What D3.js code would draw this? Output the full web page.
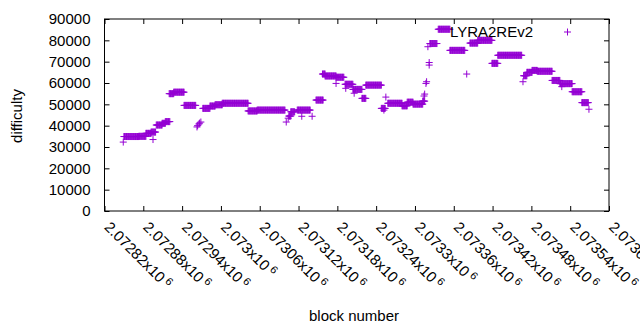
<!DOCTYPE html>
<html>
<head>
<meta charset="utf-8">
<script src="https://cdn.jsdelivr.net/npm/d3@7"></script>
<style>
  body { margin: 0; background: #fff; }
  text { font-family: "Liberation Sans", Arial, sans-serif; }
</style>
</head>
<body>
<div id="chart"></div>
<script>
// runs of consecutive blocks sharing one difficulty (start block, end block, difficulty)
const runStart = [2072849, 2072850, 2072873, 2072884, 2072892, 2072895, 2072900, 2072909, 2072914,
  2072920, 2072927, 2072943, 2072963, 2072964, 2072966, 2072967, 2072969,
  2072972, 2072983, 2072991, 2073002, 2073042, 2073056,
  2073101, 2073104, 2073105, 2073108, 2073118, 2073125, 2073141, 2073147,
  2073157, 2073161, 2073178, 2073178, 2073193, 2073192, 2073204, 2073206, 2073218, 2073224,
  2073248, 2073252, 2073255, 2073258, 2073280, 2073288, 2073297,
  2073312, 2073314, 2073315, 2073317, 2073318, 2073322, 2073322, 2073320, 2073323,
  2073336, 2073354, 2073380, 2073385, 2073397, 2073419, 2073428,
  2073467, 2073468, 2073473, 2073481, 2073489, 2073512, 2073524, 2073527, 2073543, 2073558, 2073569];
const runEnd = [2072849, 2072873, 2072884, 2072892, 2072899, 2072895, 2072909, 2072914, 2072921,
  2072927, 2072943, 2072961, 2072963, 2072964, 2072966, 2072967, 2072969,
  2072983, 2072991, 2073002, 2073042, 2073056, 2073099,
  2073101, 2073104, 2073108, 2073114, 2073138, 2073125, 2073141, 2073158,
  2073161, 2073178, 2073178, 2073190, 2073193, 2073204, 2073218, 2073206, 2073224, 2073248,
  2073254, 2073252, 2073255, 2073280, 2073288, 2073297, 2073312,
  2073315, 2073314, 2073315, 2073317, 2073318, 2073322, 2073322, 2073320, 2073334,
  2073354, 2073377, 2073380, 2073397, 2073419, 2073428, 2073465,
  2073467, 2073473, 2073481, 2073489, 2073512, 2073524, 2073543, 2073527, 2073558, 2073568, 2073569];
const runDiff = [32300, 34900, 35000, 36400, 37000, 33500, 40300, 41100, 41900,
  55000, 55700, 49500, 39400, 40000, 40800, 41200, 41700,
  48100, 49200, 49800, 50500, 46900, 47300,
  41700, 43500, 44500, 46500, 47300, 44400, 44400, 52000,
  64200, 63300, 59800, 62700, 57500, 59400, 57000, 55200, 52800, 59000,
  48100, 47300, 53400, 50500, 49300, 51000, 50100,
  51500, 53900, 54800, 59800, 60600, 68400, 69600, 77000, 78500,
  85200, 75300, 64200, 78700, 80000, 69200, 73000,
  60600, 63400, 65000, 65900, 65500, 61200, 59700, 58300, 55900, 50800, 47700];

const yTicks = [0, 10000, 20000, 30000, 40000, 50000, 60000, 70000, 80000, 90000];
const xTicks = [2072820, 2072880, 2072940, 2073000, 2073060, 2073120, 2073180,
  2073240, 2073300, 2073360, 2073420, 2073480, 2073540, 2073600];
const xTickLabels = ["2.07282", "2.07288", "2.07294", "2.073", "2.07306", "2.07312", "2.07318",
  "2.07324", "2.0733", "2.07336", "2.07342", "2.07348", "2.07354", "2.0736"];
const seriesName = "LYRA2REv2";

const width = 640, height = 330;
const plot = {left: 104.5, right: 609, top: 19, bottom: 211};
const color = "#9400d3";

const svg = d3.select("#chart").append("svg")
  .attr("width", width).attr("height", height);

const x = d3.scaleLinear().domain([xTicks[0], xTicks[xTicks.length - 1]]).range([plot.left, plot.right]);
const y = d3.scaleLinear().domain([0, 90000]).range([plot.bottom, plot.top]);

// expand runs into one point per block
const points = [];
runStart.forEach((s, i) => {
  for (let b = s; b <= runEnd[i]; b++) points.push({block: b, diff: runDiff[i]});
});

// axes with inward ticks, mirrored on top and right
const axisStyle = g => {
  g.select(".domain").remove();
  g.selectAll("line").attr("stroke", "#000");
  g.selectAll("text").attr("fill", "#000").style("font-size", "15px")
    .style("font-family", "'Liberation Sans', Arial, sans-serif");
};
svg.append("g").attr("transform", `translate(${plot.left},0)`)
  .call(d3.axisLeft(y).tickValues(yTicks).tickSize(-5).tickPadding(14).tickFormat(d3.format("d")))
  .call(axisStyle);
svg.append("g").attr("transform", `translate(${plot.right},0)`)
  .call(d3.axisRight(y).tickValues(yTicks).tickSize(-5).tickFormat(""))
  .call(axisStyle);
svg.append("g").attr("transform", `translate(0,${plot.bottom})`)
  .call(d3.axisBottom(x).tickValues(xTicks).tickSize(-5).tickFormat(""))
  .call(axisStyle);
svg.append("g").attr("transform", `translate(0,${plot.top})`)
  .call(d3.axisTop(x).tickValues(xTicks).tickSize(-5).tickFormat(""))
  .call(axisStyle);

// rotated x tick labels
const xl = svg.append("g").selectAll("text").data(xTicks).enter().append("text")
  .attr("transform", d => `translate(${x(d) - 1},228) rotate(45)`)
  .style("font-size", "15px").attr("fill", "#000");
xl.append("tspan").text((d, i) => xTickLabels[i] + "x10");
xl.append("tspan").attr("dx", 3).attr("dy", -5).style("font-size", "11px").text("6");

svg.append("rect")
  .attr("x", plot.left).attr("y", plot.top)
  .attr("width", plot.right - plot.left).attr("height", plot.bottom - plot.top)
  .attr("fill", "none").attr("stroke", "#000").attr("stroke-width", 1);

// plus markers
const s = 3.5;
svg.append("g").selectAll("path").data(points).enter().append("path")
  .attr("d", d => {
    const cx = x(d.block), cy = y(d.diff);
    return `M${cx - s},${cy}H${cx + s}M${cx},${cy - s}V${cy + s}`;
  })
  .attr("stroke", color).attr("stroke-width", 1).attr("fill", "none");

// axis titles
svg.append("text").attr("transform", "translate(22,116) rotate(-90)")
  .attr("text-anchor", "middle").style("font-size", "15px").text("difficulty");
svg.append("text").attr("x", 354).attr("y", 321)
  .attr("text-anchor", "middle").style("font-size", "15px").text("block number");

// legend
svg.append("text").attr("x", 533).attr("y", 37)
  .attr("text-anchor", "end").style("font-size", "15px").text(seriesName);
svg.append("path")
  .attr("d", `M${567.5 - s},32H${567.5 + s}M567.5,${32 - s}V${32 + s}`)
  .attr("stroke", color).attr("stroke-width", 1);
</script>
</body>
</html>
